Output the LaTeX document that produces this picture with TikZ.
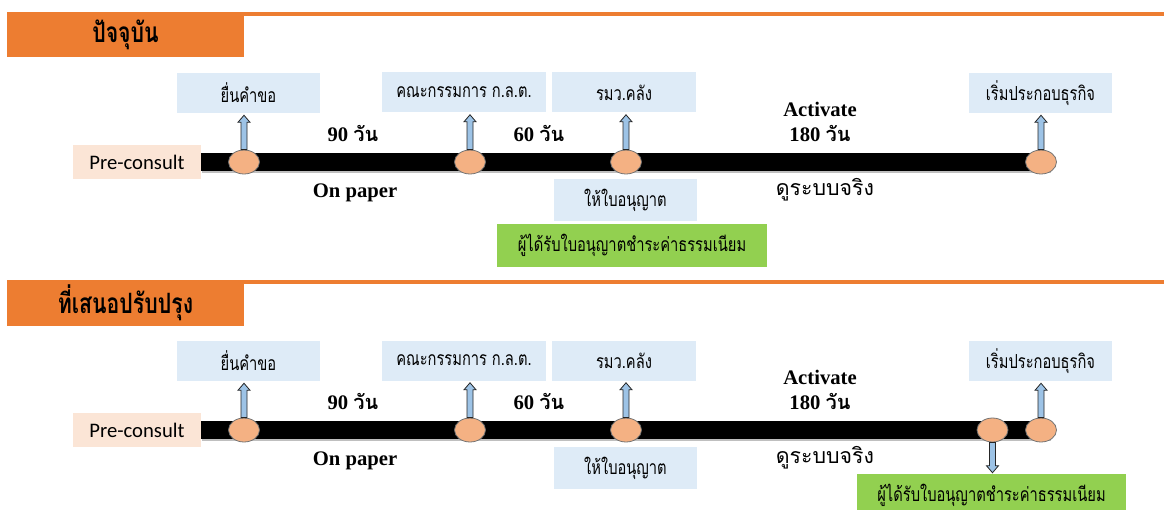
\documentclass[tikz,border=0pt]{standalone}
\usepackage{fontspec}
\usetikzlibrary{shapes.geometric,calc}
\newfontfamily\thai[Script=Thai,FakeStretch=0.76]{Loma}
\newfontfamily\thaiw[Script=Thai]{Loma}
\newfontfamily\serifb{Liberation Serif}
\newfontfamily\calib{Carlito}
\definecolor{orangehd}{HTML}{ED7D31}
\definecolor{lblue}{HTML}{DEEBF7}
\definecolor{peach}{HTML}{FBE5D6}
\definecolor{lgreen}{HTML}{92D050}
\definecolor{dotfill}{HTML}{F4B183}
\definecolor{arrfill}{HTML}{9DC3E6}
\tikzset{
  header/.style={fill=orangehd, inner sep=0pt, minimum width=177.75pt, minimum height=33.75pt, font=\thai\bfseries\fontsize{21}{24}\selectfont},
  bluebox/.style={fill=lblue, inner sep=0pt, minimum height=30pt, font=\thai\fontsize{14.5}{17}\selectfont},
  greenbox/.style={fill=lgreen, inner sep=0pt, minimum width=202.5pt, minimum height=32.25pt, font=\thai\fontsize{14.5}{17}\selectfont},
  prebox/.style={fill=peach, inner sep=0pt, minimum width=96pt, minimum height=25.5pt, font=\calib\fontsize{15.5}{18}\selectfont},
  dot/.style={ellipse, draw=black!55, fill=dotfill, line width=0.6pt, inner sep=0pt, minimum width=23.25pt, minimum height=18pt},
  arrowst/.style={fill=arrfill, draw=black!85, line width=0.6pt, line join=miter},
  bar/.style={line width=13.5pt},
  barshadow/.style={line width=13.5pt, draw=black!25},
  lbl/.style={inner sep=0pt, font=\serifb\bfseries\fontsize{15.5}{18}\selectfont},
  thlbl/.style={inner sep=0pt, font=\thaiw\fontsize{16}{19}\selectfont},
}
\newcommand\days[1]{{\serifb\bfseries\fontsize{15.5}{18}\selectfont #1 }{\thaiw\bfseries\fontsize{15}{18}\selectfont วัน}}
% block arrow from node point #1 to node point #2; #3 = head length (negative for downward)
\newcommand\blkarrow[3]{%
  \draw[arrowst] let \p1=(#1), \p2=(#2) in
    ({\x1-2.25pt},\y1) -- ({\x1-2.25pt},{\y2-(#3)}) -- ({\x1-4.5pt},{\y2-(#3)}) -- (\x1,\y2)
    -- ({\x1+4.5pt},{\y2-(#3)}) -- ({\x1+2.25pt},{\y2-(#3)}) -- ({\x1+2.25pt},\y1) -- cycle;}
\newcommand\commonline{%
  \draw[orangehd, line width=3pt] (7,14) -- (1164,14);
  \node[prebox] (pre) at (137,162) {Pre-consult};
  \coordinate (barend) at (1050,162);
  \draw[barshadow] ($(pre.east)+(1,2)$) -- ($(barend)+(1,2)$);
  \draw[bar] (pre.east) -- (barend);
  \node[bluebox, minimum width=107.25pt] (b1) at (248.5,93) {ยื่นคำขอ};
  \node[bluebox, minimum width=123pt] (b2) at (464,92.5) {คณะกรรมการ ก.ล.ต.};
  \node[bluebox, minimum width=108pt] (b3) at (624,92.5) {รมว.คลัง};
  \node[bluebox, minimum width=107.25pt] (b4) at (1040.5,93) {เริ่มประกอบธุรกิจ};
  \node[bluebox, minimum width=107.25pt, minimum height=31.5pt] (lic) at (625.5,200) {ให้ใบอนุญาต};
  \node[dot] (c1) at (244,162) {};
  \node[dot] (c2) at (470,162) {};
  \node[dot] (c3) at (626,162) {};
  \node[dot] (c4) at (1041,162) {};
  \blkarrow{c1.north}{$(b1.south)+(0,2)$}{5.25pt}
  \blkarrow{c2.north}{$(b2.south)+(0,2)$}{5.25pt}
  \blkarrow{c3.north}{$(b3.south)+(0,2)$}{5.25pt}
  \blkarrow{c4.north}{$(b4.south)+(0,2)$}{5.25pt}
  \node[inner sep=0pt] (d90) at (353,134) {\days{90}};
  \node[inner sep=0pt] (d60) at (539,134) {\days{60}};
  \node[lbl] (act) at (820,109) {Activate};
  \node[inner sep=0pt] (d180) at (820,134) {\days{180}};
  \node[lbl] (onp) at (355,193) {On paper};
  \node[thlbl] (real) at (825,190) {ดูระบบจริง};
}
\begin{document}
\begin{tikzpicture}[x=0.75pt,y=-0.75pt]
\useasboundingbox (0,0) rectangle (1164,510);
\begin{scope}[name prefix=t-]
  \commonline
  \node[header] (hd) at (125.5,35) {ปัจจุบัน};
  \node[greenbox] (fee) at (632,245.5) {ผู้ได้รับใบอนุญาตชำระค่าธรรมเนียม};
\end{scope}
\begin{scope}[yshift=-201pt, name prefix=m-]
  \commonline
  \node[header] (hd) at (125.5,35) {ที่เสนอปรับปรุง};
  \node[dot] (c5) at (992.5,162) {};
  \node[greenbox, minimum width=201.75pt] (fee) at (991.5,227.5) {ผู้ได้รับใบอนุญาตชำระค่าธรรมเนียม};
  \blkarrow{c5.south}{$(fee.north)+(0,-1)$}{-5.25pt}
\end{scope}
\end{tikzpicture}
\end{document}
